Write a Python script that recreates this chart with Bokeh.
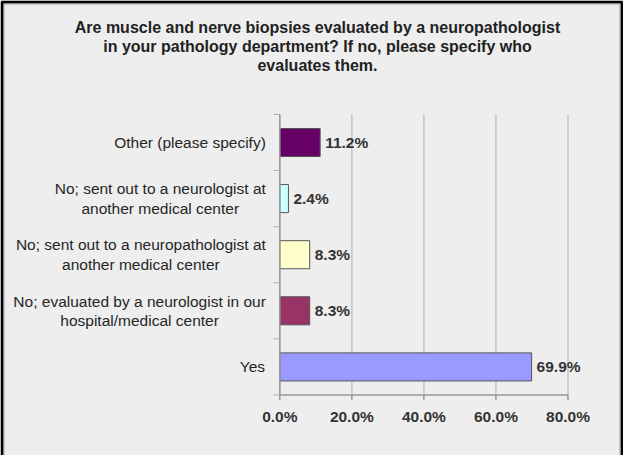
from bokeh.plotting import figure
from bokeh.models import ColumnDataSource, Range1d, Label, BoxAnnotation
from bokeh.embed import file_html
from bokeh.resources import INLINE
from bokeh.core.properties import value

# ---------------- data ----------------
categories = [
    "Yes",
    "No; evaluated by a neurologist in our\nhospital/medical center",
    "No; sent out to a neuropathologist at\nanother medical center",
    "No; sent out to a neurologist at\nanother medical center",
    "Other (please specify)",
]
values = [69.9, 8.3, 8.3, 2.4, 11.2]
colors = ["#9999FF", "#993366", "#FFFFCC", "#CCFFFF", "#660066"]
x_ticks = [0, 20, 40, 60, 80]
tick_labels = ["0.0%", "20.0%", "40.0%", "60.0%", "80.0%"]
title_text = ("Are muscle and nerve biopsies evaluated by a neuropathologist\n"
              "in your pathology department? If no, please specify who\n"
              "evaluates them.")

# ---------------- layout / style ----------------
FONT = "Liberation Sans"
BG = "#EEEEEE"
W, H = 623, 455
X0_PX, X80_PX = 279.3, 567.5        # where 0% and 80% fall on the canvas
PITCH = 56.1                         # px per category row
FIRST_ROW_FROM_BOTTOM = 88.6         # px from canvas bottom to the centre of first row
LABEL_FS = 15.5

px_per = (X80_PX - X0_PX) / (x_ticks[-1] - x_ticks[0])
x_start = -X0_PX / px_per
x_end = x_start + W / px_per
y_start = -FIRST_ROW_FROM_BOTTOM / PITCH
y_end = y_start + H / PITCH

# Arial / Liberation Sans advance widths (1/1000 em) to centre multi-line labels
AW = {' ': 278, '(': 333, ')': 333, '/': 278, ';': 278, ',': 278, '.': 278,
      'N': 722, 'O': 778, 'Y': 667,
      'a': 556, 'b': 556, 'c': 500, 'd': 556, 'e': 556, 'f': 278, 'g': 556,
      'h': 556, 'i': 222, 'j': 222, 'k': 500, 'l': 222, 'm': 833, 'n': 556,
      'o': 556, 'p': 556, 'q': 556, 'r': 333, 's': 500, 't': 278, 'u': 556,
      'v': 500, 'w': 722, 'x': 500, 'y': 500, 'z': 500}


def text_w(s, fs):
    return sum(AW.get(c, 556) for c in s) / 1000.0 * fs


n = len(categories)
rows = list(range(n))
cat_offsets = [-(14 + max(text_w(l, LABEL_FS) for l in c.split("\n")) / 2) for c in categories]

src = ColumnDataSource(dict(row=rows, cat=categories, val=values, color=colors,
                            lab=[f"{v:.1f}%" for v in values], off=cat_offsets,
                            zero=[0] * n))

p = figure(width=W, height=H, x_range=Range1d(x_start, x_end), y_range=Range1d(y_start, y_end),
           output_backend="svg", toolbar_location=None,
           min_border_left=0, min_border_right=0, min_border_top=0, min_border_bottom=0)
p.xaxis.visible = False
p.yaxis.visible = False
p.xgrid.visible = False
p.ygrid.visible = False
p.background_fill_color = BG
p.border_fill_color = BG
p.outline_line_color = None

# vertical grid lines
p.segment(x0=x_ticks, y0=[-0.5] * len(x_ticks), x1=x_ticks, y1=[n - 0.5] * len(x_ticks),
          line_color="#C4C4C4", line_width=1.5)

# bars
p.hbar(y="row", right="val", left=0, height=0.5, fill_color="color",
       line_color="#555555", line_width=1, source=src)

# value labels
p.text(x="val", y="row", text="lab", source=src, x_offset=5,
       text_baseline="middle", text_align="left", text_font_size=f"{LABEL_FS}px",
       text_font_style="bold", text_color="#333333", text_font=value(FONT))

# x axis: line, ticks, labels
p.segment(x0=[x_ticks[0]], y0=[-0.5], x1=[x_ticks[-1]], y1=[-0.5], line_color="#999999", line_width=1.5)
p.segment(x0=x_ticks, y0=[-0.5] * len(x_ticks), x1=x_ticks, y1=[-0.5 - 5 / PITCH] * len(x_ticks),
          line_color="#999999", line_width=1.5)
p.text(x=x_ticks, y=[-0.5] * len(x_ticks), text=tick_labels, y_offset=22,
       text_align="center", text_baseline="middle", text_font=value(FONT),
       text_font_size=f"{LABEL_FS}px", text_font_style="bold", text_color="#333333")

# y axis: line, boundary ticks, category labels
p.segment(x0=[0], y0=[-0.5], x1=[0], y1=[n - 0.5], line_color="#999999", line_width=1.5)
bounds = [i - 0.5 for i in range(n + 1)]
p.segment(x0=[-6 / px_per] * len(bounds), y0=bounds, x1=[0] * len(bounds), y1=bounds,
          line_color="#AAAAAA", line_width=1)
p.text(x="zero", y="row", text="cat", source=src, x_offset="off",
       text_align="center", text_baseline="middle", text_font=value(FONT),
       text_font_size=f"{LABEL_FS}px", text_color="#262626", text_line_height=1.15)

# title
p.add_layout(Label(x=317, y=409, x_units="screen", y_units="screen", text=title_text,
                   text_align="center", text_baseline="middle", text_font=FONT,
                   text_font_size="16px", text_font_style="bold", text_color="#222222",
                   text_line_height=1.12))

# outer frame: black border with a thin grey inner line (bottom edge is cut off)
p.add_layout(BoxAnnotation(left=1.5, right=W - 1.5, top=H - 1.5, bottom=-20,
                           left_units="screen", right_units="screen",
                           top_units="screen", bottom_units="screen",
                           fill_color=None, fill_alpha=0, line_color="#000000",
                           line_alpha=1.0, line_width=3))
p.add_layout(BoxAnnotation(left=3.5, right=W - 3.5, top=H - 3.5, bottom=-20,
                           left_units="screen", right_units="screen",
                           top_units="screen", bottom_units="screen",
                           fill_color=None, fill_alpha=0, line_color="#A0A0A0",
                           line_alpha=1.0, line_width=1))

open("out.html", "w").write(file_html(p, INLINE))
